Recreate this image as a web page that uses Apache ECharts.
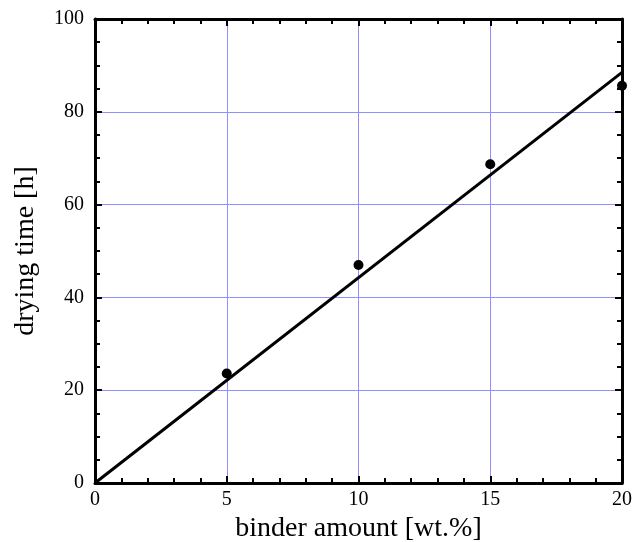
<!DOCTYPE html>
<html>
<head>
<meta charset="utf-8">
<script src="https://cdn.jsdelivr.net/npm/echarts@6/dist/echarts.min.js"></script>
<style>
  html, body { margin: 0; padding: 0; background: #fff; }
  #chart { width: 633px; height: 542px; }
</style>
</head>
<body>
<div id="chart"></div>
<script>
// Measured drying times versus binder content
const binderAmount = [5, 10, 15, 20];          // wt.%
const dryingTime = [23.6, 47.0, 68.7, 85.6];   // h

// Linear fit through the origin
const fitX = [0, 20];
const fitY = [0, 88.5];

const xTicks = [0, 5, 10, 15, 20];
const yTicks = [0, 20, 40, 60, 80, 100];

const FONT = '"Liberation Serif", "DejaVu Serif", serif';
const gridBlue = '#8f8fff';

const chart = echarts.init(document.getElementById('chart'), null, { renderer: 'canvas' });

const frameAxis = {
  axisLine: { show: true, onZero: false, lineStyle: { color: '#000', width: 3 } },
  axisTick: { show: true, inside: true, length: 7, lineStyle: { color: '#000', width: 2 } },
  minorTick: { show: true, length: 5, lineStyle: { color: '#000', width: 2 } }
};

chart.setOption({
  animation: false,
  backgroundColor: '#fff',
  grid: { left: 95, right: 11, top: 19, bottom: 59, containLabel: false, outerBoundsMode: 'none' },
  xAxis: [
    Object.assign({
      type: 'value', position: 'bottom',
      min: xTicks[0], max: xTicks[xTicks.length - 1], interval: 5,
      name: 'binder amount [wt.%]', nameLocation: 'middle', nameGap: 31,
      nameTextStyle: { fontFamily: FONT, fontSize: 28, color: '#000' },
      axisLabel: { fontFamily: FONT, fontSize: 20, color: '#000', margin: 7 },
      splitLine: { show: true, lineStyle: { color: gridBlue, width: 1 } }
    }, frameAxis, { minorTick: Object.assign({}, frameAxis.minorTick, { splitNumber: 5 }) }),
    Object.assign({
      type: 'value', position: 'top',
      min: xTicks[0], max: xTicks[xTicks.length - 1], interval: 5,
      axisLabel: { show: false }, splitLine: { show: false }
    }, frameAxis, { minorTick: Object.assign({}, frameAxis.minorTick, { splitNumber: 5 }) })
  ],
  yAxis: [
    Object.assign({
      type: 'value', position: 'left',
      min: yTicks[0], max: yTicks[yTicks.length - 1], interval: 20,
      name: 'drying time [h]', nameLocation: 'middle', nameGap: 55,
      nameTextStyle: { fontFamily: FONT, fontSize: 28, color: '#000' },
      axisLabel: { fontFamily: FONT, fontSize: 20, color: '#000', margin: 11 },
      splitLine: { show: true, lineStyle: { color: gridBlue, width: 1 } }
    }, frameAxis, { minorTick: Object.assign({}, frameAxis.minorTick, { splitNumber: 4 }) }),
    Object.assign({
      type: 'value', position: 'right',
      min: yTicks[0], max: yTicks[yTicks.length - 1], interval: 20,
      axisLabel: { show: false }, splitLine: { show: false }
    }, frameAxis, { minorTick: Object.assign({}, frameAxis.minorTick, { splitNumber: 4 }) })
  ],
  series: [
    {
      type: 'line',
      data: fitX.map((x, i) => [x, fitY[i]]),
      showSymbol: false,
      lineStyle: { color: '#000', width: 3 },
      clip: false,
      z: 3
    },
    {
      type: 'scatter',
      data: binderAmount.map((x, i) => [x, dryingTime[i]]),
      symbol: 'circle',
      symbolSize: 10,
      itemStyle: { color: '#000', opacity: 1 },
      clip: false,
      z: 4
    }
  ]
});
</script>
</body>
</html>
